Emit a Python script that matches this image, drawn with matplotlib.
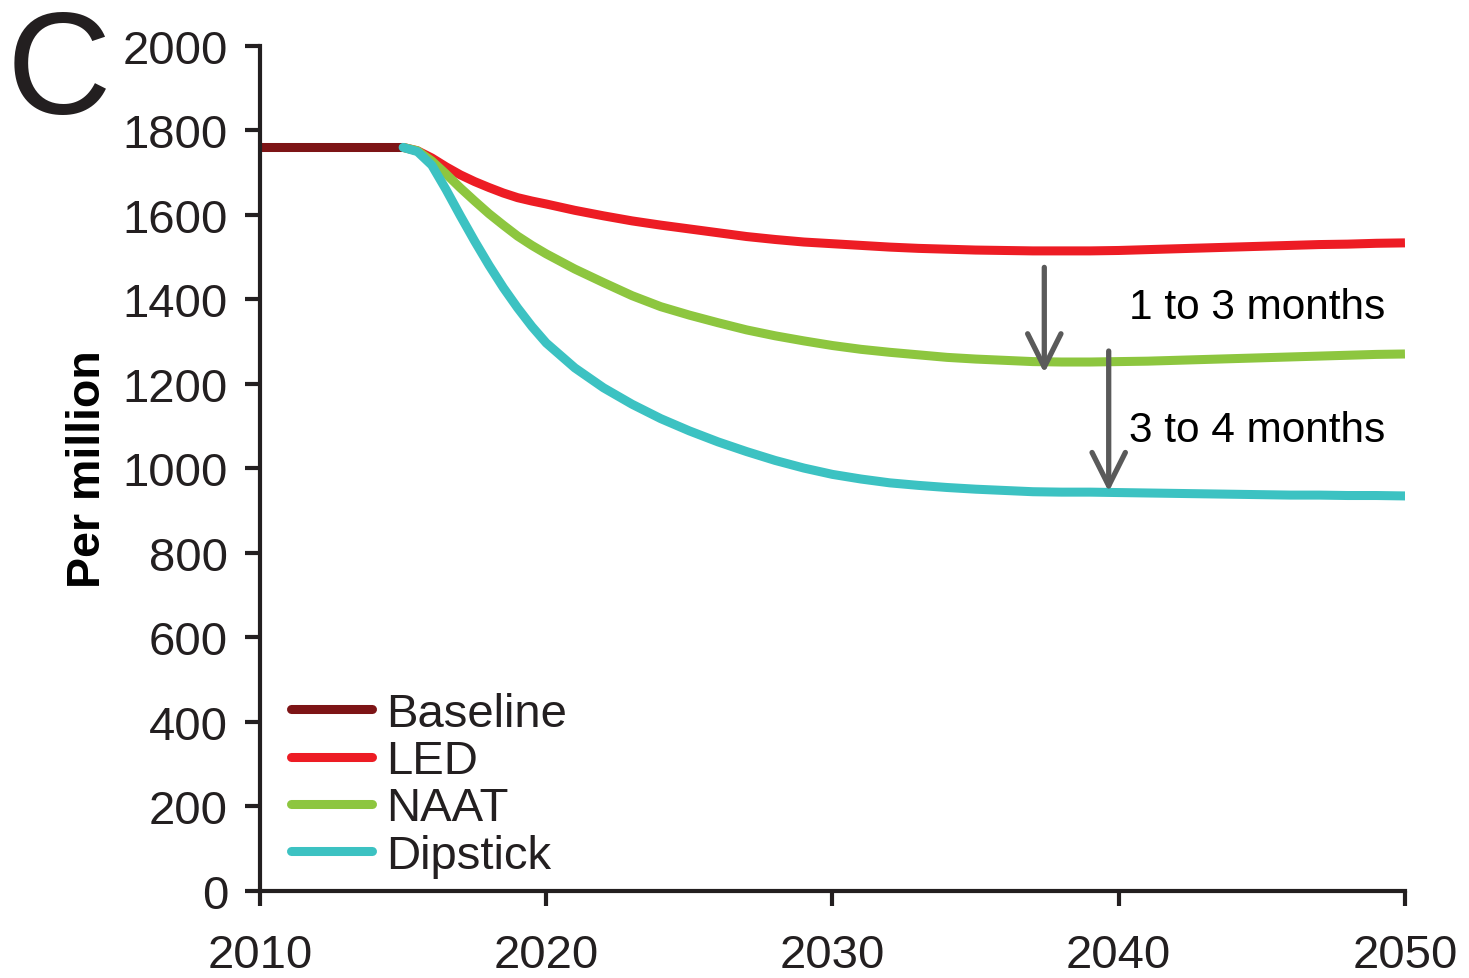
import matplotlib
matplotlib.use("Agg")
import matplotlib.pyplot as plt

plt.rcParams["font.family"] = ["Liberation Sans", "DejaVu Sans"]

# ── Data ───────────────────────────────────────────────────────────────
baseline_years = [2010, 2015]
baseline_vals = [1760, 1760]

years = [2015, 2015.5, 2016, 2016.5, 2017, 2017.5, 2018, 2018.5, 2019,
         2019.5] + list(range(2020, 2051))
led = [1760, 1752, 1735, 1714, 1695, 1679, 1665, 1652, 1641, 1633,
       1626, 1611, 1598, 1586, 1576, 1567, 1558, 1549, 1542,
       1536, 1532, 1528, 1524, 1521, 1519, 1517, 1516, 1515, 1515,
       1515, 1516, 1518, 1520, 1522, 1524, 1526, 1528, 1530, 1531,
       1533, 1534]
naat = [1760, 1752, 1728, 1697, 1664, 1633, 1603, 1576, 1550, 1528,
        1508, 1472, 1440, 1409, 1383, 1363, 1345, 1328, 1314,
        1302, 1291, 1282, 1275, 1269, 1263, 1259, 1256, 1253, 1252,
        1252, 1253, 1254, 1256, 1258, 1260, 1262, 1264, 1266, 1268,
        1270, 1271]
dipstick = [1760, 1750, 1718, 1660, 1598, 1538, 1481, 1428, 1380, 1336,
            1297, 1238, 1191, 1152, 1118, 1089, 1063, 1040, 1019,
            1001, 986, 975, 966, 960, 955, 951, 948, 945, 944,
            944, 943, 942, 941, 940, 939, 938, 937, 937, 936,
            936, 935]

series_names = ["Baseline", "LED", "NAAT", "Dipstick"]
series_colors = ["#7d1416", "#ed1c24", "#8dc63f", "#3cc2c2"]

x_ticks = [2010, 2020, 2030, 2040, 2050]
y_ticks = list(range(0, 2001, 200))

# annotation arrows: (x, y_start, y_end, label, label_y)
arrows = [(2037.4, 1476, 1226, "1 to 3 months", 1383),
          (2039.65, 1278, 945, "3 to 4 months", 1090)]

# ── Figure ─────────────────────────────────────────────────────────────
fig = plt.figure(figsize=(14.69, 9.79), dpi=100)
ax = fig.add_axes([0.177, 0.0889, 0.7794, 0.8631])

lw = 6.5
ax.plot(years, led, color=series_colors[1], lw=lw, label=series_names[1],
        solid_capstyle="butt", solid_joinstyle="round", zorder=3)
ax.plot(years, naat, color=series_colors[2], lw=lw, label=series_names[2],
        solid_capstyle="butt", solid_joinstyle="round", zorder=4)
ax.plot(years, dipstick, color=series_colors[3], lw=lw, label=series_names[3],
        solid_capstyle="round", solid_joinstyle="round", zorder=5)
ax.plot(baseline_years, baseline_vals, color=series_colors[0], lw=lw,
        label=series_names[0], solid_capstyle="butt", zorder=2)

for x, y0, y1, txt, ty in arrows:
    ax.annotate("", xy=(x, y1), xytext=(x, y0),
                arrowprops=dict(arrowstyle="->,head_length=0.6,head_width=0.3",
                                color="#5a5a5a", lw=3.8, mutation_scale=40,
                                shrinkA=0, shrinkB=0), zorder=6)
    ax.text(2050 - 0.7, ty, txt, ha="right", va="center", fontsize=30.5,
            color="black")

ax.set_xlim(2010, 2050)
ax.set_ylim(0, 2000)
ax.set_xticks(x_ticks)
ax.set_yticks(y_ticks)

for side in ["top", "right"]:
    ax.spines[side].set_visible(False)
for side in ["left", "bottom"]:
    ax.spines[side].set_linewidth(3)
    ax.spines[side].set_color("#231f20")

ax.tick_params(axis="y", direction="out", length=11, width=3, color="#231f20",
               labelsize=34, pad=12, labelcolor="#231f20")
ax.tick_params(axis="x", direction="out", length=11, width=3, color="#231f20",
               labelsize=34, pad=19, labelcolor="#231f20")

ax.set_ylabel("Per million", fontsize=33.5, fontweight="bold", labelpad=9)

handles, labels = ax.get_legend_handles_labels()
order = [labels.index(n) for n in series_names]
leg = ax.legend([handles[i] for i in order], [labels[i] for i in order],
                loc="lower left", bbox_to_anchor=(0.0155, 0.0), frameon=False,
                fontsize=34, handlelength=1.72, handletextpad=0.3,
                labelspacing=0.07, borderaxespad=0.0, borderpad=0.28)
for line in leg.get_lines():
    line.set_solid_capstyle("round")
for t in leg.get_texts():
    t.set_color("#231f20")

fig.text(0.0045, 0.884, "C", fontsize=104, va="baseline", ha="left",
         color="#231f20")

fig.savefig("out.png", dpi=100)
